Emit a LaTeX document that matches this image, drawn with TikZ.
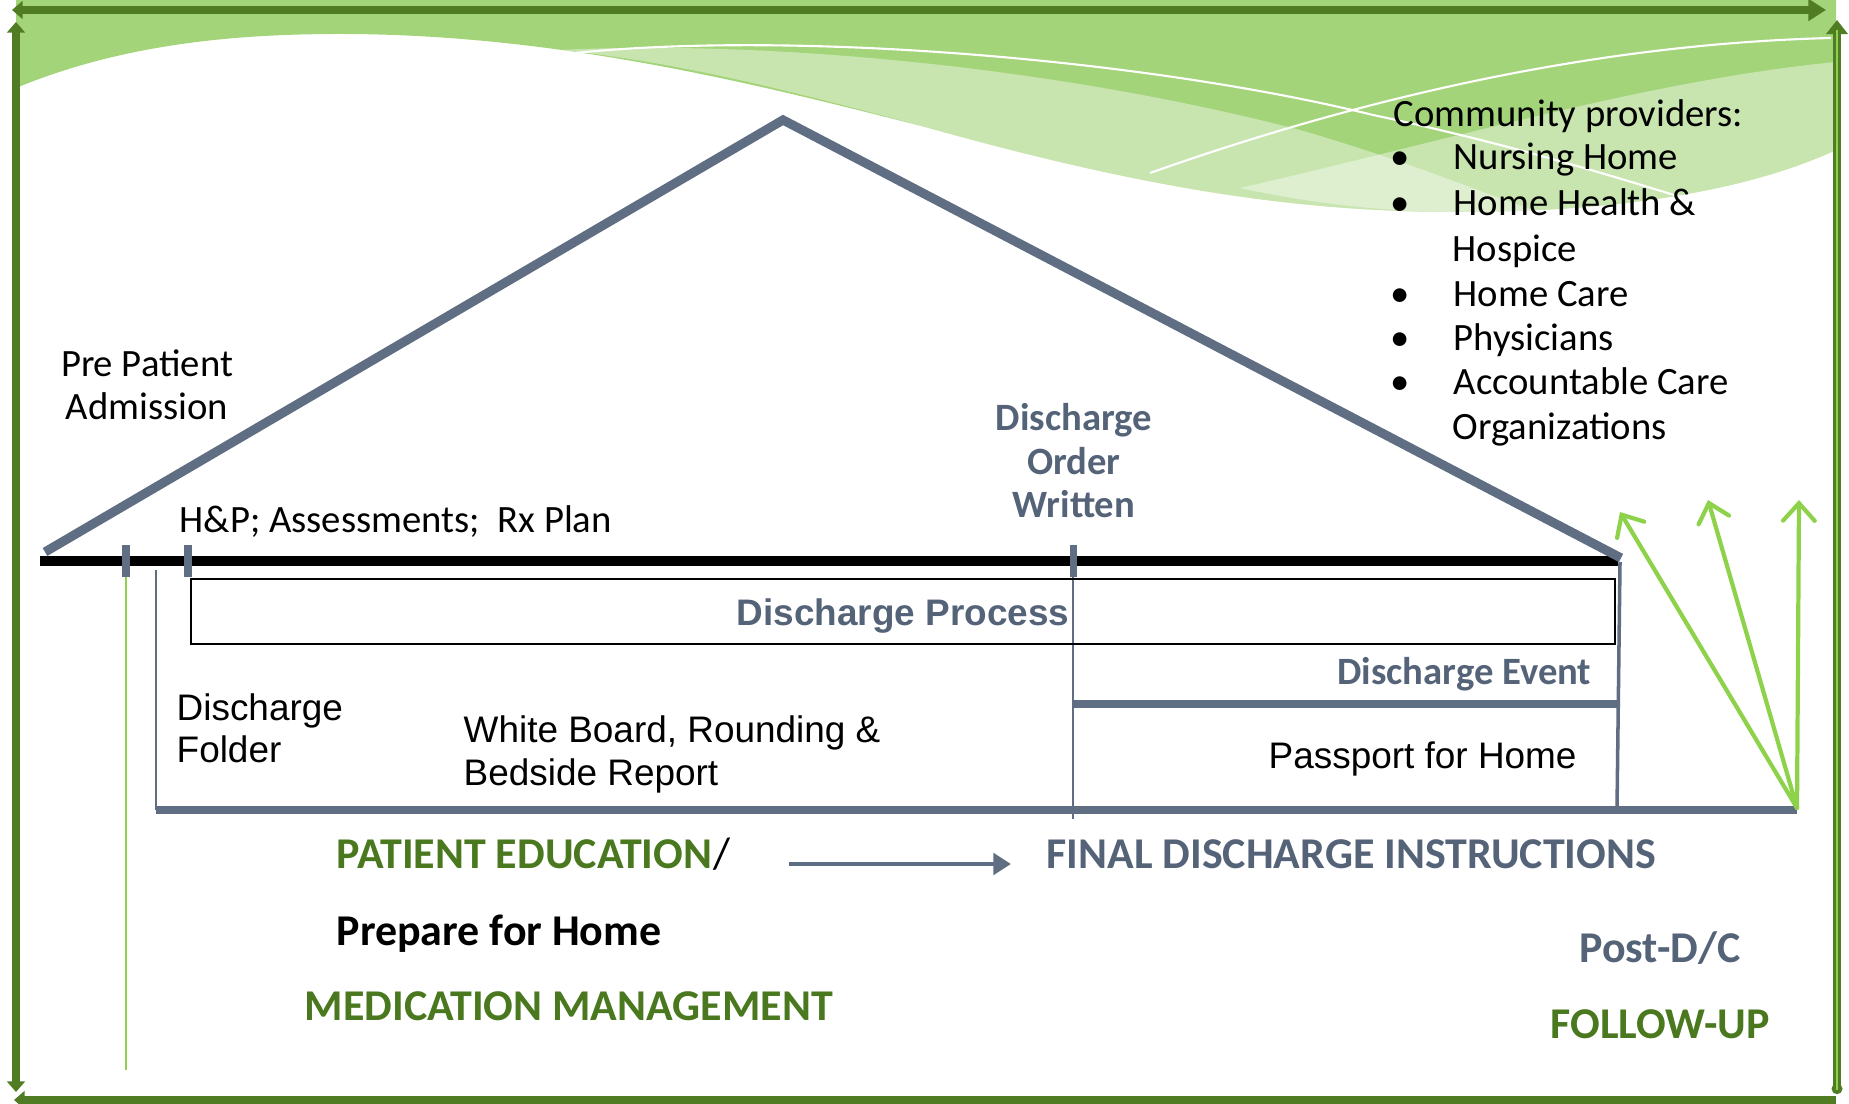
\documentclass[tikz,border=0pt]{standalone}
\usepackage{fontspec}
\setmainfont{Carlito}
\newfontfamily\arialfont{Liberation Sans}
\usetikzlibrary{arrows.meta}

\definecolor{slate}{RGB}{95,110,131}
\definecolor{slatetext}{RGB}{85,99,121}
\definecolor{textgreen}{RGB}{74,120,30}
\definecolor{framegreen}{RGB}{80,124,36}
\definecolor{leafgreen}{RGB}{142,210,76}
\definecolor{wavegreen}{RGB}{164,212,122}

\tikzset{
  smalltxt/.style={font=\fontsize{11}{12.5}\selectfont, inner sep=0pt},
  smallbold/.style={font=\fontsize{11}{12.5}\selectfont\bfseries, text=slatetext, inner sep=0pt},
  arialtxt/.style={font=\arialfont\fontsize{10.5}{12}\selectfont, inner sep=0pt},
  bigtxt/.style={font=\fontsize{12.5}{15}\selectfont\bfseries, inner sep=0pt},
  frameline/.style={draw=framegreen, line width=2.3pt},
  roofline/.style={draw=slate, line width=2.6pt, line join=miter},
  tickmark/.style={draw=slate, line width=2pt},
  floorline/.style={draw=slate, line width=2pt},
  thinline/.style={draw=slate, line width=0.7pt},
  processbox/.style={draw=black, line width=0.6pt, minimum width=14.24cm, minimum height=0.65cm,
    text height=7.7pt, text depth=0pt,
    font=\arialfont\fontsize{10.5}{12}\selectfont\bfseries, text=slatetext},
  leafarrow/.style={draw=leafgreen, line width=1.2pt, line cap=round,
    -{Straight Barb[length=5pt,width=9pt,line cap=round]}},
  flowarrow/.style={draw=slate, line width=1.4pt, -{Triangle[length=5pt,width=6pt]}}
}

\begin{document}
\begin{tikzpicture}[x=0.01cm, y=-0.01cm]
  \useasboundingbox (0,0) rectangle (1849,1104);

  \fill[wavegreen] (16,0) -- (1836,0) -- (1836,150) .. controls (1750,190) and (1620,212) .. (1460,212)
    .. controls (1300,212) and (1150,190) .. (925,127) .. controls (760,85) and (560,34) .. (340,34)
    .. controls (230,34) and (120,45) .. (16,88) -- cycle;
  \fill[white, opacity=0.4] (560,50) .. controls (760,40) and (1050,65) .. (1300,130)
    .. controls (1420,165) and (1500,200) .. (1540,212) -- (1460,212)
    .. controls (1300,212) and (1150,190) .. (925,127) .. controls (800,93) and (680,62) .. (560,50) -- cycle;
  \fill[white, opacity=0.4] (1240,188) .. controls (1450,140) and (1650,80) .. (1836,62) -- (1836,150)
    .. controls (1750,190) and (1620,212) .. (1460,212) .. controls (1380,212) and (1310,203) .. (1240,188) -- cycle;
  \draw[white, line width=0.6pt] (575,53) .. controls (800,30) and (1150,60) .. (1373,115)
    .. controls (1500,142) and (1600,172) .. (1690,200);
  \draw[white, line width=0.6pt] (1150,173) .. controls (1300,120) and (1550,45) .. (1831,38);

  \draw[frameline, {Triangle[length=3pt,width=5pt]}-{Triangle[length=5pt,width=6pt]}] (12,10) -- (1826,10);
  \draw[frameline, {Triangle[length=3pt,width=5pt]}-{Triangle[length=3pt,width=5pt]}] (16,22) -- (16,1092);
  \draw[frameline, {Triangle[length=3pt,width=5pt]}-] (14,1100) -- (1836,1100);
  \draw[frameline, {Circle[length=3pt]}-{Triangle[length=4pt,width=6pt]}] (1837,1094) -- (1837,20);
  \draw[leafgreen, line width=0.5pt] (1837,1090) -- (1837,30);

  \coordinate (eaveL) at (45,552);
  \coordinate (ridge) at (783,120);
  \coordinate (eaveR) at (1621,558);
  \draw[black, line width=3.1pt] (40,561) -- (1618,561);
  \draw[roofline] (eaveL) -- (ridge) -- (eaveR);

  \draw[tickmark] (126,545) -- (126,577);
  \draw[tickmark] (188,545) -- (188,577);
  \draw[tickmark] (1073,545) -- (1073,577);

  \draw[leafgreen, line width=0.5pt] (126,577) -- (126,1070);
  \draw[thinline] (156,570) -- (156,810);
  \draw[slate, line width=0.4pt] (1073,577) -- (1073,819);
  \draw[slate, line width=1pt] (1620,562) -- (1617,808);
  \draw[floorline] (1073,704) -- (1620,704);
  \draw[floorline] (156,810) -- (1797,810);

  \node[processbox] (dcprocess) at (903,611.5) {Discharge Process};

  \node[smalltxt, anchor=base, align=center] (prepatient) at (147,420) {Pre Patient\\Admission};
  \node[smalltxt, anchor=base west] (hpplan) at (179,533) {H\&P; Assessments;~ Rx Plan};
  \node[smallbold, anchor=base, align=center] (dcorder) at (1074,518) {Discharge\\Order\\Written};
  \node[smallbold, anchor=base east] (dcevent) at (1592,685) {Discharge Event};
  \node[arialtxt, anchor=base west] (passport) at (1268,768) {Passport for Home};
  \node[arialtxt, anchor=base west, align=left] (dcfolder) at (176,763) {Discharge\\Folder};
  \node[arialtxt, anchor=base west, align=left] (whiteboard) at (463,785) {White Board, Rounding \&\\Bedside Report};

  \node[smalltxt, anchor=base west] (community) at (1393,127) {Community providers:};
  \node[smalltxt, anchor=base] (bulletA) at (1400,170) {\textbullet};
  \node[smalltxt, anchor=base west] (nursing) at (1453,170) {Nursing Home};
  \node[smalltxt, anchor=base] (bulletB) at (1400,216) {\textbullet};
  \node[smalltxt, anchor=base west] (homehealth) at (1453,216) {Home Health \&};
  \node[smalltxt, anchor=base west] (hospice) at (1452,262) {Hospice};
  \node[smalltxt, anchor=base] (bulletC) at (1400,307) {\textbullet};
  \node[smalltxt, anchor=base west] (homecare) at (1453,307) {Home Care};
  \node[smalltxt, anchor=base] (bulletD) at (1400,351) {\textbullet};
  \node[smalltxt, anchor=base west] (physicians) at (1453,351) {Physicians};
  \node[smalltxt, anchor=base] (bulletE) at (1400,395) {\textbullet};
  \node[smalltxt, anchor=base west] (accountable) at (1453,395) {Accountable Care};
  \node[smalltxt, anchor=base west] (organizations) at (1452,440) {Organizations};

  \node[bigtxt, text=textgreen, anchor=base west] (pateduc) at (336,868) {PATIENT EDUCATION};
  \node[bigtxt, font=\fontsize{12.5}{15}\selectfont, anchor=base west] (eduslash) at (pateduc.base east) {/};
  \node[bigtxt, text=slatetext, anchor=base west] (finalinst) at (1046,868) {FINAL DISCHARGE INSTRUCTIONS};
  \node[bigtxt, anchor=base west] (prephome) at (336,945) {Prepare for Home};
  \node[bigtxt, text=textgreen, anchor=base west] (medmgmt) at (304,1020) {MEDICATION MANAGEMENT};
  \node[bigtxt, text=slatetext, anchor=base] (postdc) at (1660,962) {Post-D/C};
  \node[bigtxt, text=textgreen, anchor=base] (followup) at (1660,1038) {FOLLOW-UP};

  \coordinate (flowstart) at (789,864);
  \coordinate (flowend) at (1011,864);
  \draw[flowarrow] (flowstart) -- (flowend);

  \coordinate (fanbase) at (1797,808);
  \coordinate (fanA) at (1620,512);
  \coordinate (fanB) at (1708,500);
  \coordinate (fanC) at (1799,500);
  \foreach \tip in {fanA,fanB,fanC}
    \draw[leafarrow] (fanbase) -- (\tip);
\end{tikzpicture}
\end{document}
